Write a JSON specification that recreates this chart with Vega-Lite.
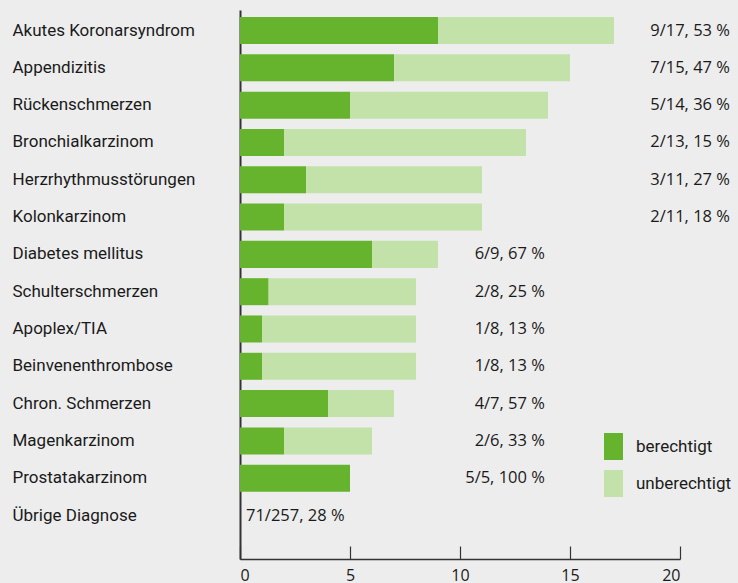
{
  "$schema": "https://vega.github.io/schema/vega-lite/v6.json",
  "width": 440,
  "height": 549,
  "padding": {"left": 12, "top": 10, "right": 8, "bottom": 0},
  "background": "#ededed",
  "config": {
    "view": {"stroke": null},
    "font": "Roboto",
    "axis": {"grid": false}
  },
  "data": {
    "values": [
      {"diagnose": "Akutes Koronarsyndrom", "berechtigt": 9, "unberechtigt": 8, "gesamt": 17, "label": "9/17, 53 %"},
      {"diagnose": "Appendizitis", "berechtigt": 7, "unberechtigt": 8, "gesamt": 15, "label": "7/15, 47 %"},
      {"diagnose": "Rückenschmerzen", "berechtigt": 5, "unberechtigt": 9, "gesamt": 14, "label": "5/14, 36 %"},
      {"diagnose": "Bronchialkarzinom", "berechtigt": 2, "unberechtigt": 11, "gesamt": 13, "label": "2/13, 15 %"},
      {"diagnose": "Herzrhythmusstörungen", "berechtigt": 3, "unberechtigt": 8, "gesamt": 11, "label": "3/11, 27 %"},
      {"diagnose": "Kolonkarzinom", "berechtigt": 2, "unberechtigt": 9, "gesamt": 11, "label": "2/11, 18 %"},
      {"diagnose": "Diabetes mellitus", "berechtigt": 6, "unberechtigt": 3, "gesamt": 9, "label": "6/9, 67 %"},
      {"diagnose": "Schulterschmerzen", "berechtigt": 1.3, "unberechtigt": 6.7, "gesamt": 8, "label": "2/8, 25 %"},
      {"diagnose": "Apoplex/TIA", "berechtigt": 1, "unberechtigt": 7, "gesamt": 8, "label": "1/8, 13 %"},
      {"diagnose": "Beinvenenthrombose", "berechtigt": 1, "unberechtigt": 7, "gesamt": 8, "label": "1/8, 13 %"},
      {"diagnose": "Chron. Schmerzen", "berechtigt": 4, "unberechtigt": 3, "gesamt": 7, "label": "4/7, 57 %"},
      {"diagnose": "Magenkarzinom", "berechtigt": 2, "unberechtigt": 4, "gesamt": 6, "label": "2/6, 33 %"},
      {"diagnose": "Prostatakarzinom", "berechtigt": 5, "unberechtigt": 0, "gesamt": 5, "label": "5/5, 100 %"},
      {"diagnose": "Übrige Diagnose", "berechtigt": null, "unberechtigt": null, "gesamt": null, "label": "71/257, 28 %"}
    ]
  },
  "encoding": {
    "y": {
      "field": "diagnose",
      "type": "nominal",
      "sort": null,
      "scale": {"paddingInner": 0.276, "paddingOuter": 0.496, "align": 0.19},
      "axis": {
        "title": null,
        "ticks": false,
        "labelAlign": "left",
        "labelPadding": 228,
        "labelLimit": 0,
        "labelFontSize": 17,
        "labelColor": "#1a1a1a",
        "labelFont": "Roboto",
        "domainColor": "#333333",
        "domainWidth": 2
      }
    }
  },
  "layer": [
    {
      "transform": [
        {"fold": ["berechtigt", "unberechtigt"], "as": ["bewertung", "anzahl"]},
        {"filter": "isValid(datum.anzahl)"}
      ],
      "mark": {"type": "bar"},
      "encoding": {
        "x": {
          "field": "anzahl",
          "type": "quantitative",
          "stack": "zero",
          "scale": {"domain": [0, 20], "nice": false},
          "axis": {
            "title": null,
            "values": [0, 5, 10, 15, 20],
            "tickSize": -13,
            "tickColor": "#333333",
            "tickWidth": 1.2,
            "domainColor": "#333333",
            "domainWidth": 1.5,
            "labelPadding": 21,
            "labelFontSize": 16,
            "labelColor": "#1a1a1a",
            "labelFont": "Open Sans"
          }
        },
        "color": {
          "field": "bewertung",
          "type": "nominal",
          "scale": {"domain": ["berechtigt", "unberechtigt"], "range": ["#66b32e", "#c2e2aa"]},
          "legend": {
            "title": null,
            "orient": "none",
            "legendX": 360,
            "legendY": 423,
            "padding": 0,
            "symbolType": "M-0.704,-1H0.704V1H-0.704Z",
            "symbolSize": 729,
            "symbolStrokeWidth": 0,
            "symbolOpacity": 1,
            "rowPadding": 10,
            "labelOffset": 9,
            "labelLimit": 0,
            "labelFontSize": 17,
            "labelColor": "#1a1a1a",
            "labelFont": "Roboto"
          }
        },
        "order": {"field": "bewertung", "type": "nominal"}
      }
    },
    {
      "transform": [{"filter": "isValid(datum.gesamt) && datum.gesamt >= 10"}],
      "mark": {"type": "text", "align": "right", "baseline": "middle", "fontSize": 16.5, "font": "Open Sans", "color": "#1a1a1a"},
      "encoding": {"x": {"datum": 22.27}, "text": {"field": "label"}}
    },
    {
      "transform": [{"filter": "isValid(datum.gesamt) && datum.gesamt < 10"}],
      "mark": {"type": "text", "align": "right", "baseline": "middle", "fontSize": 16.5, "font": "Open Sans", "color": "#1a1a1a"},
      "encoding": {"x": {"datum": 13.86}, "text": {"field": "label"}}
    },
    {
      "transform": [{"filter": "!isValid(datum.gesamt)"}],
      "mark": {"type": "text", "align": "left", "baseline": "middle", "dx": 6, "fontSize": 16.5, "font": "Open Sans", "color": "#1a1a1a"},
      "encoding": {"x": {"datum": 0}, "text": {"field": "label"}}
    }
  ]
}
